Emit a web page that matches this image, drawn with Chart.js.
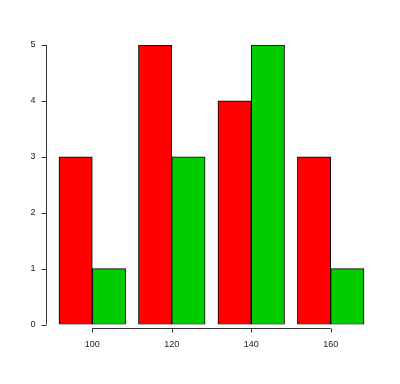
<!DOCTYPE html>
<html>
<head>
<meta charset="utf-8">
<script src="https://cdn.jsdelivr.net/npm/chart.js@4"></script>
<style>
  body { margin: 0; background: #fff; }
  canvas { display: block; }
</style>
</head>
<body>
<canvas id="myBar" width="400" height="384"></canvas>
<script>
const categories = [100, 120, 140, 160];
const redValues = [3, 5, 4, 3];
const greenValues = [1, 3, 5, 1];
const yTicks = [0, 1, 2, 3, 4, 5];

// R style axes: lines only between first and last tick
const rAxes = {
  id: "rAxes",
  afterDraw(chart) {
    const ctx = chart.ctx;
    const x = chart.scales.x;
    const y = chart.scales.y;
    ctx.save();
    ctx.strokeStyle = "#333";
    ctx.lineWidth = 1;
    ctx.fillStyle = "#222";
    ctx.font = "9px 'Liberation Sans', Arial, sans-serif";

    // y axis
    const ax = Math.round(x.left) + 0.5;
    ctx.beginPath();
    ctx.moveTo(ax, y.getPixelForValue(yTicks[0]));
    ctx.lineTo(ax, y.getPixelForValue(yTicks[yTicks.length - 1]));
    yTicks.forEach(t => {
      const py = Math.round(y.getPixelForValue(t)) + 0.5;
      ctx.moveTo(ax - 5, py);
      ctx.lineTo(ax, py);
    });
    ctx.stroke();
    ctx.textAlign = "right";
    ctx.textBaseline = "middle";
    yTicks.forEach(t => ctx.fillText(String(t), ax - 11, y.getPixelForValue(t)));

    // x axis
    const ay = Math.round(y.bottom) + 3.5;
    ctx.beginPath();
    ctx.moveTo(x.getPixelForValue(categories[0]), ay);
    ctx.lineTo(x.getPixelForValue(categories[categories.length - 1]), ay);
    categories.forEach(c => {
      const px = Math.round(x.getPixelForValue(c)) + 0.5;
      ctx.moveTo(px, ay);
      ctx.lineTo(px, ay + 4);
    });
    ctx.stroke();
    ctx.textAlign = "center";
    ctx.textBaseline = "middle";
    categories.forEach(c => ctx.fillText(String(c), x.getPixelForValue(c), ay + 16));
    ctx.restore();
  }
};

new Chart("myBar", {
  type: "bar",
  data: {
    datasets: [
      {
        data: categories.map((c, i) => ({ x: c, y: redValues[i] })),
        backgroundColor: "#ff0000",
        borderColor: "#000",
        borderWidth: 1,
        borderSkipped: false
      },
      {
        data: categories.map((c, i) => ({ x: c, y: greenValues[i] })),
        backgroundColor: "#00cd00",
        borderColor: "#000",
        borderWidth: 1,
        borderSkipped: false
      }
    ]
  },
  options: {
    responsive: false,
    animation: false,
    barThickness: 33.3,
    layout: { padding: { left: 46, right: 23, top: 45, bottom: 59.5 } },
    plugins: { legend: { display: false }, tooltip: { enabled: false } },
    scales: {
      x: { type: "linear", min: 88.35, max: 171.65, offset: false, display: false },
      y: { min: 0, max: 5, display: false }
    }
  },
  plugins: [rAxes]
});
</script>
</body>
</html>
